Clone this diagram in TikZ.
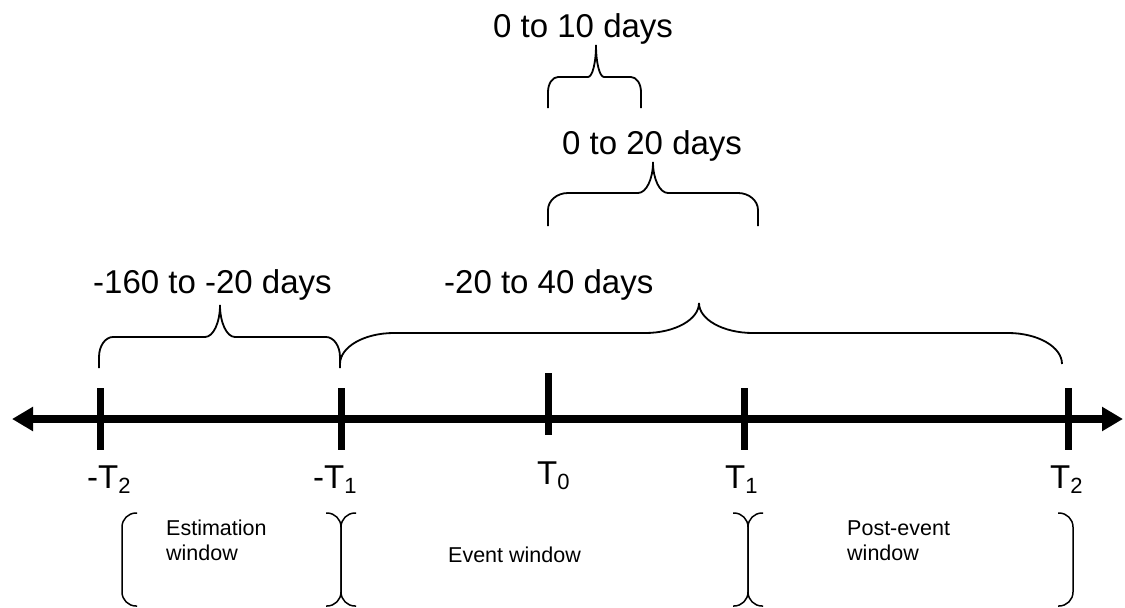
\documentclass[tikz,border=0pt]{standalone}
\usepackage{fontspec}
\setmainfont{Liberation Sans}
\usetikzlibrary{arrows.meta}

\tikzset{
  axis/.style={line width=7.5pt,{Triangle[length=21pt,width=23pt]}-{Triangle[length=21pt,width=23pt]}},
  tick/.style={line width=7pt},
  brc/.style={line width=1.8pt},
  winbr/.style={line width=1.5pt,rounded corners=14pt},
  big/.style={font=\fontsize{33}{38}\selectfont,inner sep=0pt},
  small/.style={font=\fontsize{21.5}{25}\selectfont,inner sep=0pt,align=left}
}
\newcommand{\sub}[1]{\raisebox{-5pt}{\fontsize{22}{22}\selectfont #1}}
% accolade : x gauche, x droite, x pointe, y barre, y pieds, y pointe, coin dx, coin dy, pointe dx
\newcommand{\TopBrace}[9]{%
  \draw[brc] (#1,#5) -- (#1,#4+#8) .. controls (#1,#4+0.448*#8) and (#1+0.448*#7,#4) .. (#1+#7,#4)
    -- (#3-#9,#4) .. controls (#3-0.448*#9,#4) and (#3,#6+0.552*#4-0.552*#6) .. (#3,#6)
    .. controls (#3,#6+0.552*#4-0.552*#6) and (#3+0.448*#9,#4) .. (#3+#9,#4)
    -- (#2-#7,#4) .. controls (#2-0.448*#7,#4) and (#2,#4+0.448*#8) .. (#2,#4+#8) -- (#2,#5);}

\begin{document}
\begin{tikzpicture}[x=1pt,y=-1pt]
\useasboundingbox (0,0) rectangle (1125,608);

% axe du temps
\coordinate (west) at (12,419);
\coordinate (east) at (1123,419);
\draw[axis] (west) -- (east);
\foreach \x in {100,341,744,1068}
  \draw[tick] (\x,388) -- (\x,450);
\draw[tick] (548,373) -- (548,435);

\node[big,anchor=base west] (mT2) at (87,488) {-T\sub{2}};
\node[big,anchor=base west] (mT1) at (313,488) {-T\sub{1}};
\node[big,anchor=base west] (T0) at (537,484) {T\sub{0}};
\node[big,anchor=base west] (pT1) at (725,488) {T\sub{1}};
\node[big,anchor=base west] (pT2) at (1050,488) {T\sub{2}};

% accolades du haut
\TopBrace{548}{641}{596}{77}{108}{45}{10}{15}{8}
\TopBrace{548}{758}{653}{193}{226}{162}{20}{17}{15}
\TopBrace{99}{340}{220}{337}{368}{305}{14}{20}{15}
\TopBrace{340}{1062}{699}{333}{364}{303}{54}{31}{54}

\node[big,anchor=base west] (d10) at (493,37) {0 to 10 days};
\node[big,anchor=base west] (d20) at (562,154) {0 to 20 days};
\node[big,anchor=base west] (d160) at (93,293) {-160 to -20 days};
\node[big,anchor=base west] (d40) at (444,293) {-20 to 40 days};

% fenetres
\foreach \a/\b in {122/341,341/748,748/1073}{
  \draw[winbr] (\a+15,513) -| (\a,606) -- (\a+15,606);
  \draw[winbr] (\b-15,513) -| (\b,606) -- (\b-15,606);
}
\node[small,anchor=base west] (est) at (166,560) {Estimation\\window};
\node[small,anchor=base west] (evt) at (448,562) {Event window};
\node[small,anchor=base west] (post) at (847,560) {Post-event\\window};
\end{tikzpicture}
\end{document}
